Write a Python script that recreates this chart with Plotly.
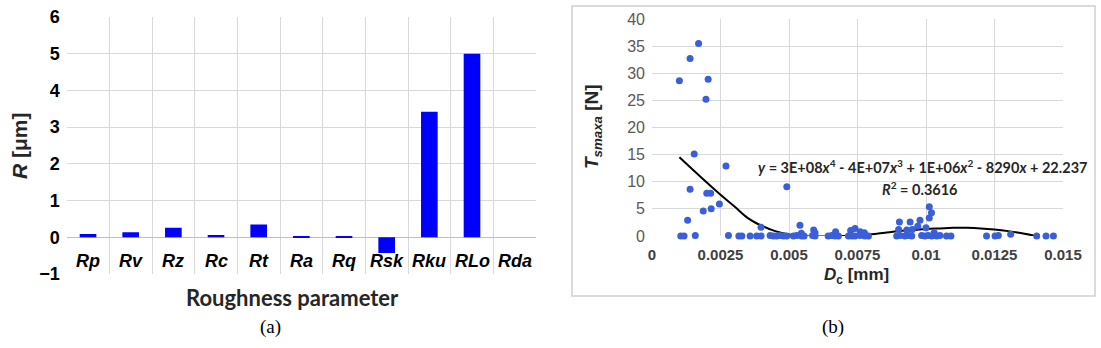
import plotly.graph_objects as go

# ---------------- data: panel (a) ----------------
categories = ["Rp", "Rv", "Rz", "Rc", "Rt", "Ra", "Rq", "Rsk", "Rku", "RLo", "Rda"]
r_values = [0.09, 0.14, 0.26, 0.06, 0.35, 0.03, 0.03, -0.43, 3.42, 5.0, 0.0]
r_ticks = [-1, 0, 1, 2, 3, 4, 5, 6]

# ---------------- data: panel (b) ----------------
dc_mm = [
    1.00, 1.39, 1.70, 2.05, 1.97, 1.54, 2.70, 1.39, 2.00, 2.14, 2.46, 1.87, 2.16, 1.30,
    1.05, 1.17, 1.58, 2.79, 3.17, 3.28,
    4.92, 5.40, 3.98, 5.90, 5.95, 6.70, 5.45,
    3.58, 3.82, 3.98, 4.31, 4.43, 4.55, 4.67, 4.80, 4.92, 5.16, 5.28, 5.46, 5.55, 5.86,
    5.95, 6.43, 6.56, 6.68, 6.80, 7.17,
    7.41, 7.25, 7.60, 7.75, 7.29, 7.41, 7.59, 7.77, 7.90,
    9.03, 9.42, 9.78, 10.12, 10.20, 10.12, 9.00, 9.30, 9.50, 10.00, 9.70, 10.30,
    8.93, 9.05, 9.23, 9.36, 9.48, 9.84, 9.96, 10.08, 10.21, 10.39, 10.51, 10.75, 10.91,
    12.21, 12.52, 12.64, 13.09, 14.04, 14.38, 14.65,
]
ts_n = [
    28.6, 32.7, 35.5, 28.9, 25.2, 15.1, 12.9, 8.6, 7.9, 7.9, 5.9, 4.6, 5.0, 2.9,
    0.0, 0.0, 0.1, 0.1, 0.0, 0.0,
    9.1, 2.0, 1.6, 1.1, 0.6, 0.8, 0.5,
    0.0, 0.0, 0.0, 0.1, 0.0, 0.0, 0.1, 0.0, 0.0, 0.0, 0.1, 0.0, 0.0, 0.1,
    0.0, 0.0, 0.1, 0.0, 0.0, 0.0,
    1.4, 1.0, 0.8, 0.6, 0.0, 0.0, 0.1, 0.0, 0.0,
    2.6, 2.6, 2.9, 5.4, 4.3, 3.3, 1.2, 1.1, 1.2, 1.5, 1.8, 0.6,
    0.0, 0.1, 0.0, 0.1, 0.0, 0.1, 0.0, 0.1, 0.0, 0.0, 0.1, 0.0, 0.0,
    0.0, 0.0, 0.1, 0.3, 0.0, 0.0, 0.0,
]
trend_dc = [1.0, 1.75, 2.5, 3.0, 3.5, 4.0, 4.5, 5.0, 5.5, 6.0, 6.5, 7.0, 7.5, 8.0,
            8.5, 9.0, 9.5, 10.0, 10.5, 11.0, 11.5, 12.0, 12.5, 13.0, 13.5, 14.0]
trend_ts = [14.5, 11.0, 7.6, 5.5, 3.3, 1.9, 0.9, 0.3, 0.0, -0.1, -0.1, 0.0, 0.1, 0.3,
            0.6, 0.9, 1.1, 1.3, 1.4, 1.5, 1.5, 1.4, 1.2, 0.9, 0.5, 0.0]
dc_ticks = [0, 0.0025, 0.005, 0.0075, 0.01, 0.0125, 0.015]
dc_ticktext = ["0", "0.0025", "0.005", "0.0075", "0.01", "0.0125", "0.015"]
ts_ticks = [0, 5, 10, 15, 20, 25, 30, 35, 40]

W, H = 1101, 348
GRID = "#d9d9d9"
BAR = "#0000ff"
DOT = "#3a5fd8"

fig = go.Figure()

fig.add_trace(go.Bar(
    x=list(range(len(categories))), y=r_values, width=0.39,
    marker=dict(color=BAR, line=dict(width=0)),
    xaxis="x", yaxis="y", showlegend=False,
))

fig.add_trace(go.Scatter(
    x=[v / 1000 for v in trend_dc], y=trend_ts, mode="lines",
    line=dict(color="black", width=2, shape="spline"),
    xaxis="x2", yaxis="y2", showlegend=False,
))
fig.add_trace(go.Scatter(
    x=[v / 1000 for v in dc_mm], y=ts_n, mode="markers",
    marker=dict(color=DOT, size=7, line=dict(width=0)),
    xaxis="x2", yaxis="y2", showlegend=False, cliponaxis=False,
))


def note(text, x, y, size, family="Liberation Sans", color="#262626", angle=0, xref="paper"):
    return dict(text=text, x=x, y=y, xref=xref, yref="paper", showarrow=False,
                xanchor="center", yanchor="middle", textangle=angle,
                font=dict(family=family, size=size, color=color))


annotations = []
for i, c in enumerate(categories):
    a = note(f"<b><i>{c}</i></b>", i, 1 - 261 / H, 18, color="black", xref="x")
    annotations.append(a)

annotations += [
    note("<b><i>R</i> [μm]</b>", 19 / W, 1 - 146 / H, 21, angle=-90),
    note("<b>Roughness parameter</b>", 292 / W, 1 - 297 / H, 22, family="Lato"),
    note("(a)", 270 / W, 1 - 327 / H, 19, family="Liberation Serif", color="black"),
    note("(b)", 833 / W, 1 - 327 / H, 19, family="Liberation Serif", color="black"),
    note("<b><i>D</i><sub>c</sub> [mm]</b>", 857 / W, 1 - 276 / H, 17),
    note("<b><i>T</i><sub><i>smaxa</i></sub> [N]</b>", 593 / W, 1 - 127 / H, 19, angle=-90),
    note("<b><i>y</i> = 3E+08<i>x</i><sup>4</sup> - 4E+07<i>x</i><sup>3</sup> + "
         "1E+06<i>x</i><sup>2</sup> - 8290<i>x</i> + 22.237</b>",
         922 / W, 1 - 167 / H, 14.5, family="Lato"),
    note("<b><i>R</i><sup>2</sup> = 0.3616</b>", 920 / W, 1 - 188 / H, 14.5, family="Lato"),
]

fig.update_layout(
    width=W, height=H,
    margin=dict(l=0, r=0, t=0, b=0),
    paper_bgcolor="white", plot_bgcolor="white",
    xaxis=dict(
        domain=[66.7 / W, 536 / W], anchor="y", automargin=False,
        range=[-0.5, len(categories) - 0.5],
        tickmode="array", tickvals=list(range(len(categories))),
        showticklabels=False,
        showgrid=False, zeroline=False, showline=False, ticks="",
        minor=dict(tickmode="linear", tick0=-0.5, dtick=1, showgrid=True,
                   gridcolor=GRID, gridwidth=1, ticks=""),
    ),
    yaxis=dict(
        domain=[1 - 274 / H, 1 - 17 / H], anchor="x", automargin=False,
        range=[-1, 6], tickmode="array", tickvals=r_ticks,
        showgrid=True, gridcolor=GRID, gridwidth=1,
        zeroline=True, zerolinecolor="#bfbfbf", zerolinewidth=1,
        showline=False, ticks="",
        tickfont=dict(family="Liberation Sans", size=18, color="black", weight="bold"),
        ticklabelstandoff=6,
    ),
    xaxis2=dict(
        domain=[652 / W, 1063 / W], anchor="y2", automargin=False,
        range=[0, 0.015], tickmode="array", tickvals=dc_ticks, ticktext=dc_ticktext,
        showgrid=True, gridcolor=GRID, gridwidth=1,
        zeroline=False, showline=False, ticks="",
        tickfont=dict(family="Liberation Sans", size=15, color="#404040", weight="bold"),
        ticklabelstandoff=8,
    ),
    yaxis2=dict(
        domain=[1 - 236 / H, 1 - 19 / H], anchor="x2", automargin=False,
        range=[0, 40], tickmode="array", tickvals=ts_ticks,
        showgrid=True, gridcolor=GRID, gridwidth=1,
        zeroline=False, showline=False, ticks="",
        tickfont=dict(family="Liberation Sans", size=16, color="#595959"),
        ticklabelstandoff=6,
    ),
    shapes=[
        dict(type="rect", xref="paper", yref="paper",
             x0=572 / W, x1=1095 / W, y0=1 - 296 / H, y1=1 - 6 / H,
             line=dict(color="#d0d0d0", width=1.5), layer="below"),
    ],
    annotations=annotations,
)

fig.write_html("out.html", config={"displayModeBar": False},
               post_script="document.body.style.margin='0';"
               "document.body.style.overflow='hidden';")
